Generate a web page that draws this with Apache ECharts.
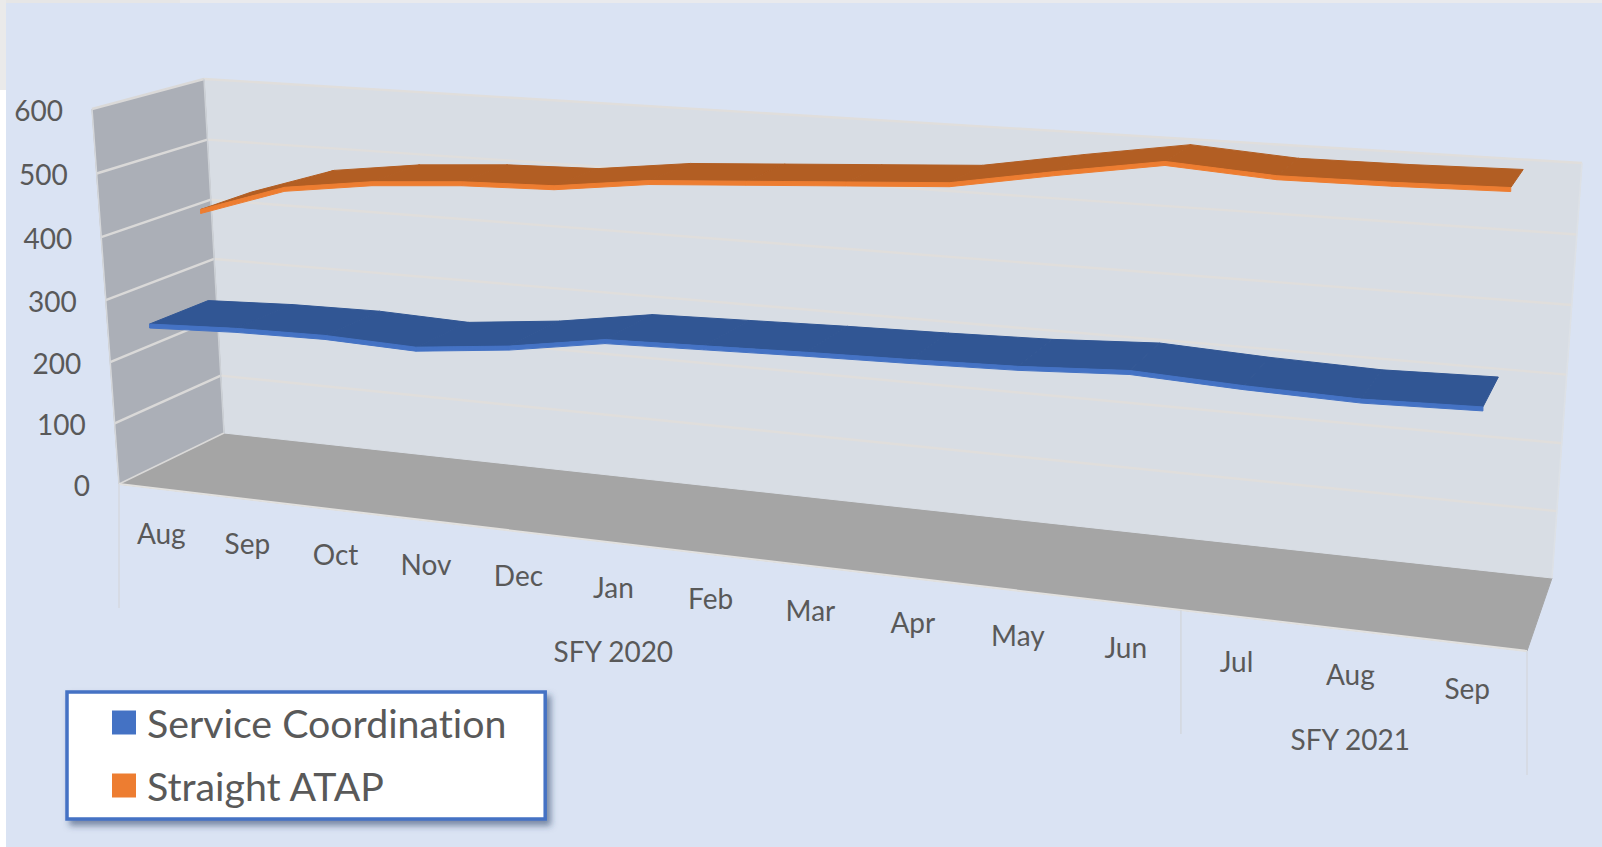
<!DOCTYPE html>
<html><head><meta charset="utf-8">
<script src="https://cdn.jsdelivr.net/npm/echarts@6/dist/echarts.min.js"></script>
<style>html,body{margin:0;padding:0;background:#fff}#c{width:1602px;height:847px}#c text{font-variant-ligatures:none}</style>
</head><body><div id="c"></div>
<script>
const months = ['Aug','Sep','Oct','Nov','Dec','Jan','Feb','Mar','Apr','May','Jun','Jul','Aug','Sep'];
const fiscalYears = [{name:'SFY 2020', from:0, to:11},{name:'SFY 2021', from:11, to:14}];
const valueTicks = [0,100,200,300,400,500,600];
const serviceCoordination = [268,274,276,271,286,309,313,317,320,324,332,325,321,325];
const straightATAP = [418,464,483,493,497,515,524,533,542,568,592,582,583,586];

const GRID = {left:100, top:100, width:1400, height:500};
const FRONT = [[119,484],[1527,651],[1561,201],[92,109]];
const LABELS = [[119,484],[1527,651],[1561,207],[92,109]];
const BACK  = [[224,433],[1552,578],[1582,163],[204,79]];
const DEPTH = {blue:[0.0,0.55], orange:[0.53,1.0]};

function homography(q){
  const [p0,p1,p2,p3]=q, [x0,y0]=p0,[x1,y1]=p1,[x2,y2]=p2,[x3,y3]=p3;
  const dx1=x1-x2,dx2=x3-x2,sx=x0-x1+x2-x3,dy1=y1-y2,dy2=y3-y2,sy=y0-y1+y2-y3;
  const den=dx1*dy2-dx2*dy1, g=(sx*dy2-dx2*sy)/den, h=(dx1*sy-sx*dy1)/den;
  const a=x1-x0+g*x1,b=x3-x0+h*x3,d=y1-y0+g*y1,e=y3-y0+h*y3;
  return (u,v)=>{const w=g*u+h*v+1;return [(a*u+b*v+x0)/w,(d*u+e*v+y0)/w];};
}
const hF=homography(FRONT), hB=homography(BACK), hL=homography(LABELS);
function project(u,v,d){const f=hF(u,v),b=hB(u,v);return [f[0]+(b[0]-f[0])*d,f[1]+(b[1]-f[1])*d];}
function toUV(pt){return [(pt[0]-GRID.left)/GRID.width,(GRID.top+GRID.height-pt[1])/GRID.height];}

const BG='#DAE3F3', LEFT='#ABAFB7', WALL='#D8DDE4', FLOOR='#A5A5A5', GRIDL='#E0DEDC', GRIDW='#DAD9D8', TXT='#595959';
const FONT='Lato';

function poly(points,fill,z){return {type:'polygon',shape:{points},style:{fill,stroke:fill,lineWidth:1},z2:z||0};}
function line(a,b,color,w,z){return {type:'line',shape:{x1:a[0],y1:a[1],x2:b[0],y2:b[1]},style:{stroke:color,lineWidth:w},z2:z||0};}
function text(s,x,y,align,size){return {type:'text',style:{text:s,x,y,align,verticalAlign:'middle',fill:TXT,font:(size||28)+'px '+FONT},z2:50};}

function renderFrame(params,api){
  const kids=[];
  const c=(u,v,d)=>project(u,v,d);
  kids.push(poly([c(0,0,0),c(1,0,0),c(1,0,1),c(0,0,1)],FLOOR));
  kids.push(poly([c(0,0,1),c(1,0,1),c(1,1,1),c(0,1,1)],WALL));
  kids.push(poly([c(0,0,0),c(0,0,1),c(0,1,1),c(0,1,0)],LEFT));
  valueTicks.forEach(t=>{
    const p=toUV(api.coord([0,t])), v=p[1];
    if(t>0) kids.push(line(c(0,v,0),c(0,v,1),GRIDW,2.4,2));
    else kids.push(line(c(0,0,0),c(0,0,1),GRIDW,1.5,2));
    if(t>0) kids.push(line(c(0,v,1),c(1,v,1),GRIDL,2.4,2));
    const a=c(0,v,0);
    kids.push(text(String(t),a[0]-29,a[1]+0.5,'right'));
  });
  kids.push(line(c(0,0,1),c(0,1,1),'#CDD1D6',1.5,3));
  kids.push(line(c(0,0,0),c(0,1,0),'#D5D7DA',1.5,3));
  kids.push(line(c(1,0,1),c(1,1,1),'#DDE1E6',1.5,3));
  kids.push(line(c(0,0,0),c(1,0,0),'#E2E1DF',2,3));
  months.forEach((m,i)=>{
    const u=toUV(api.coord([i,0]))[0], a=hL(u,0);
    kids.push(text(m,a[0],a[1]+44,'center'));
  });
  const step=1/months.length;
  fiscalYears.forEach(fy=>{
    const mid=(fy.from+fy.to)/2*step, a=hL(mid,0);
    kids.push(text(fy.name,a[0],a[1]+108.5,'center'));
    [fy.from,fy.to].forEach(k=>{const b=hL(k*step,0);kids.push(line(b,[b[0],b[1]+124],'#D4D9E1',1.5,3));});
  });
  return {type:'group',children:kids};
}

function ribbon(values,depth,topColor,edgeColor){
  return function(params,api){
    const i=api.value(0), kids=[];
    const p=toUV(api.coord([i,api.value(1)]));
    const [d0,d1]=depth, TH=4;
    if(i<values.length-1){
      const q=toUV(api.coord([i+1,values[i+1]]));
      const a=project(p[0],p[1],d0),b=project(q[0],q[1],d0),c=project(q[0],q[1],d1),e=project(p[0],p[1],d1);
      kids.push(poly([a,b,c,e],topColor,5));
      kids.push(poly([a,b,[b[0],b[1]+TH],[a[0],a[1]+TH]],edgeColor,6));
    }
    return {type:'group',children:kids};
  };
}

const chart=echarts.init(document.getElementById('c'),null,{renderer:'svg'});
chart.setOption({
  animation:false,
  backgroundColor:'#fff',
  graphic:[{type:'rect',z:-10,shape:{x:6,y:3,width:1596,height:844},style:{fill:BG}},
           {type:'rect',z:-10,shape:{x:180,y:0,width:1422,height:3},style:{fill:'#E9EAED'}},
           {type:'rect',z:-10,shape:{x:0,y:0,width:180,height:3},style:{fill:'#E6E6E6'}},
           {type:'rect',z:-10,shape:{x:0,y:0,width:6,height:90},style:{fill:'#EAEAEA'}}],
  grid:{left:GRID.left,top:GRID.top,width:GRID.width,height:GRID.height},
  xAxis:{type:'category',data:months,show:false,boundaryGap:true},
  yAxis:{type:'value',min:0,max:600,interval:100,show:false},
  legend:{orient:'vertical',left:67,top:692,padding:[11,38,14,45],itemGap:24,itemWidth:24,itemHeight:24,
    backgroundColor:'#fff',borderColor:'#4472C4',borderWidth:3.5,shadowColor:'rgba(40,60,100,0.55)',shadowBlur:6,shadowOffsetX:4,shadowOffsetY:5,
    icon:'rect',textStyle:{fontFamily:FONT,fontSize:39.3,color:TXT,padding:[0,0,0,6]},
    data:['Service Coordination','Straight ATAP']},
  series:[
    {type:'custom',name:'frame',silent:true,z:1,data:[[0,0]],renderItem:renderFrame,clip:false,legendHoverLink:false},
    {type:'custom',name:'Straight ATAP',z:3,itemStyle:{color:'#ED7D31'},data:straightATAP.map((v,i)=>[i,v]),encode:{x:0,y:1},
      renderItem:ribbon(straightATAP,DEPTH.orange,'#B25E23','#ED7D31'),clip:false},
    {type:'custom',name:'Service Coordination',z:4,itemStyle:{color:'#4472C4'},data:serviceCoordination.map((v,i)=>[i,v]),encode:{x:0,y:1},
      renderItem:ribbon(serviceCoordination,DEPTH.blue,'#315694','#4472C4'),clip:false}
  ]
});
</script></body></html>
